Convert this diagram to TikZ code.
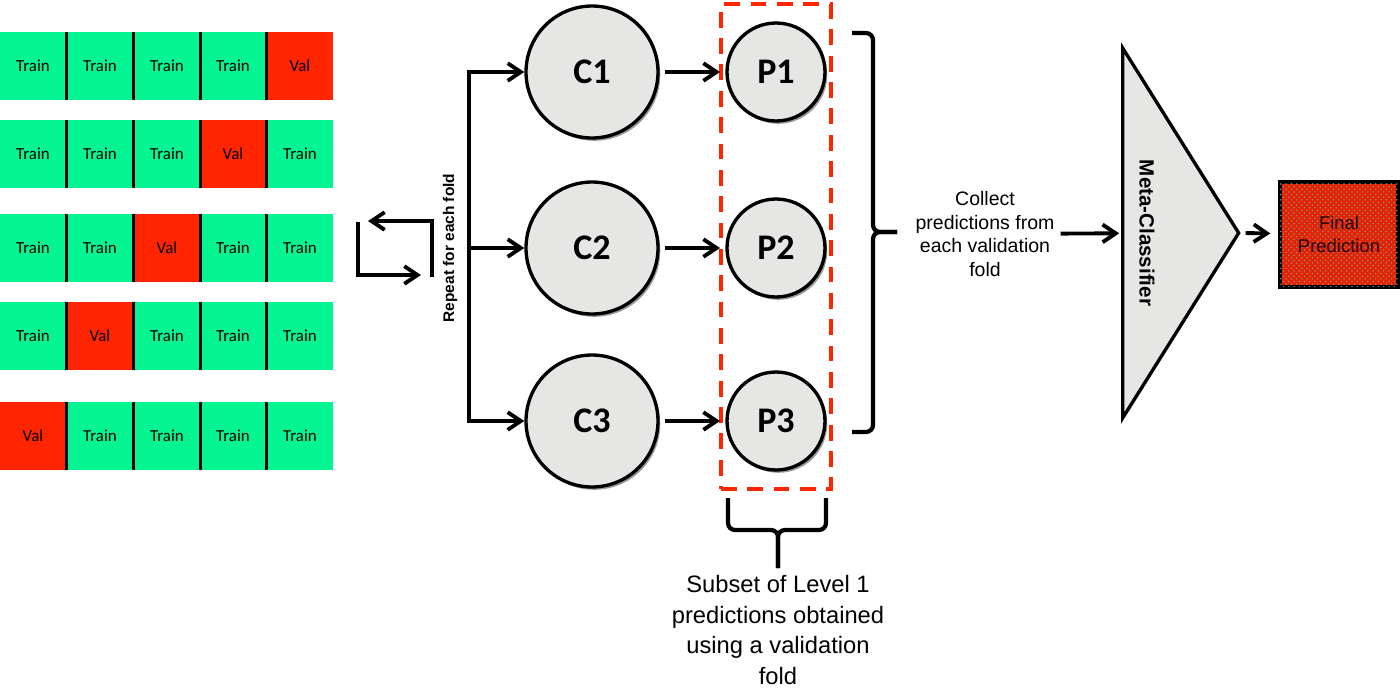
\documentclass[tikz,border=0pt]{standalone}
\usepackage{fontspec}
\setmainfont{Liberation Sans}
\newfontfamily\calibri{Carlito}
\usetikzlibrary{arrows.meta,shapes.geometric,shadows,fit,patterns}

\definecolor{trainfill}{HTML}{05F592}
\definecolor{valfill}{HTML}{FF2500}
\definecolor{modelfill}{HTML}{E6E6E5}

\tikzstyle{train}=[rectangle,fill=trainfill,minimum width=1.332cm,minimum height=1.36cm,inner sep=0pt,font=\calibri\fontsize{9.6}{11}\selectfont]
\tikzstyle{val}=[train,fill=valfill]
\tikzstyle{clf}=[circle,draw=black,line width=1.9pt,fill=modelfill,minimum size=2.64cm,inner sep=0pt,font=\calibri\bfseries\fontsize{20.5}{22}\selectfont,drop shadow={shadow xshift=1.3pt,shadow yshift=-1.6pt,fill=black!80}]
\tikzstyle{pred}=[clf,minimum size=1.96cm]
\tikzstyle{foldbox}=[rectangle,draw=valfill,line width=2.3pt,dash pattern=on 9pt off 6pt,inner xsep=2.5pt,inner ysep=9.6pt]
\tikzstyle{metaclf}=[isosceles triangle,isosceles triangle stretches,draw=black,line width=1.9pt,fill=modelfill,inner sep=0pt,minimum height=2.32cm,minimum width=7.4cm]
\tikzstyle{finalbox}=[rectangle,draw=black,line width=2pt,fill=valfill!90!black,minimum width=2.36cm,minimum height=2.1cm,align=center,text=red!15!black,font=\fontsize{10.5}{13}\selectfont,postaction={pattern=crosshatch dots,pattern color=black!45}]
\tikzstyle{divider}=[line width=1.8pt]
\tikzstyle{link}=[line width=2.2pt]
\tikzstyle{bracket}=[line width=2.4pt,rounded corners=4pt]

\begin{document}
\begin{tikzpicture}[x=0.02cm,y=-0.02cm,>={Straight Barb[length=7.5pt,width=10pt]}]
	\useasboundingbox (0,0) rectangle (1400,690);

	% folds
	\node (r1-1) at (33,66) [train] {Train};
	\node (r1-2) at (100,66) [train] {Train};
	\node (r1-3) at (167,66) [train] {Train};
	\node (r1-4) at (233,66) [train] {Train};
	\node (r1-5) at (300,66) [val] {Val};

	\node (r2-1) at (33,154) [train] {Train};
	\node (r2-2) at (100,154) [train] {Train};
	\node (r2-3) at (167,154) [train] {Train};
	\node (r2-4) at (233,154) [val] {Val};
	\node (r2-5) at (300,154) [train] {Train};

	\node (r3-1) at (33,248) [train] {Train};
	\node (r3-2) at (100,248) [train] {Train};
	\node (r3-3) at (167,248) [val] {Val};
	\node (r3-4) at (233,248) [train] {Train};
	\node (r3-5) at (300,248) [train] {Train};

	\node (r4-1) at (33,336) [train] {Train};
	\node (r4-2) at (100,336) [val] {Val};
	\node (r4-3) at (167,336) [train] {Train};
	\node (r4-4) at (233,336) [train] {Train};
	\node (r4-5) at (300,336) [train] {Train};

	\node (r5-1) at (33,436) [val] {Val};
	\node (r5-2) at (100,436) [train] {Train};
	\node (r5-3) at (167,436) [train] {Train};
	\node (r5-4) at (233,436) [train] {Train};
	\node (r5-5) at (300,436) [train] {Train};

	\foreach \r in {1,...,5}
		\foreach \c in {1,...,4}
			\draw [divider] (r\r-\c.north east) -- (r\r-\c.south east);

	% repeat loop
	\coordinate (loopa) at (358,222);
	\coordinate (loopb) at (421,275);
	\coordinate (loopc) at (432,277);
	\coordinate (loopd) at (368,221);
	\draw [link,->] (loopa) |- (loopb);
	\draw [link,->] (loopc) |- (loopd);

	\node (repeat) at (450,248) [rotate=90,font=\bfseries\fontsize{8.8}{10}\selectfont] {Repeat for each fold};

	% level 1 classifiers
	\node (C1) at (592,72) [clf] {C1};
	\node (C2) at (592,248) [clf] {C2};
	\node (C3) at (592,421) [clf] {C3};

	\node (P1) at (776,72) [pred] {P1};
	\node (P2) at (776,248) [pred] {P2};
	\node (P3) at (776,421) [pred] {P3};

	\node (fold) [foldbox,fit=(P1)(P3)] {};

	\coordinate (fork) at (469,248);
	\draw [link,->] (fork) |- (C1);
	\draw [link,->] (fork) -- (C2);
	\draw [link,->] (fork) |- (C3);

	\draw [link,->,shorten <=3pt,shorten >=3pt] (C1) to (P1);
	\draw [link,->,shorten <=3pt,shorten >=3pt] (C2) to (P2);
	\draw [link,->,shorten <=3pt,shorten >=3pt] (C3) to (P3);

	% braces
	\coordinate (rbtop) at (852,33);
	\coordinate (rbbot) at (852,432);
	\coordinate (rbtip) at (897,232);
	\draw [bracket] (rbtop) -- (873,33) -- (873,232) -- (rbtip);
	\draw [bracket] (rbbot) -- (873,432) -- (873,232) -- (rbtip);

	\coordinate (sbleft) at (728,498);
	\coordinate (sbright) at (826,498);
	\coordinate (sbtip) at (778,568);
	\draw [bracket] (sbleft) -- (728,530) -- (778,530) -- (sbtip);
	\draw [bracket] (sbright) -- (826,530) -- (778,530) -- (sbtip);

	\node (subset) at (778,630) [align=center,font=\fontsize{13.5}{17.6}\selectfont] {Subset of Level 1\\predictions obtained\\using a validation\\fold};

	% meta level
	\node (collect) at (985,234) [align=center,font=\fontsize{11.1}{13.6}\selectfont] {Collect\\predictions from\\each validation\\fold};

	\node (meta) at (1121,233) [metaclf,anchor=west] {};
	\node (metalabel) at (1147,233) [rotate=-90,font=\bfseries\fontsize{11.7}{13}\selectfont] {Meta-Classifier};

	\node (final) at (1339,234.5) [finalbox] {Final\\Prediction};

	\draw [link,->,shorten >=1pt] (collect) to (meta);
	\draw [link,->,shorten <=1.5pt,shorten >=4.5pt] (meta.apex) to (final);

\end{tikzpicture}
\end{document}
